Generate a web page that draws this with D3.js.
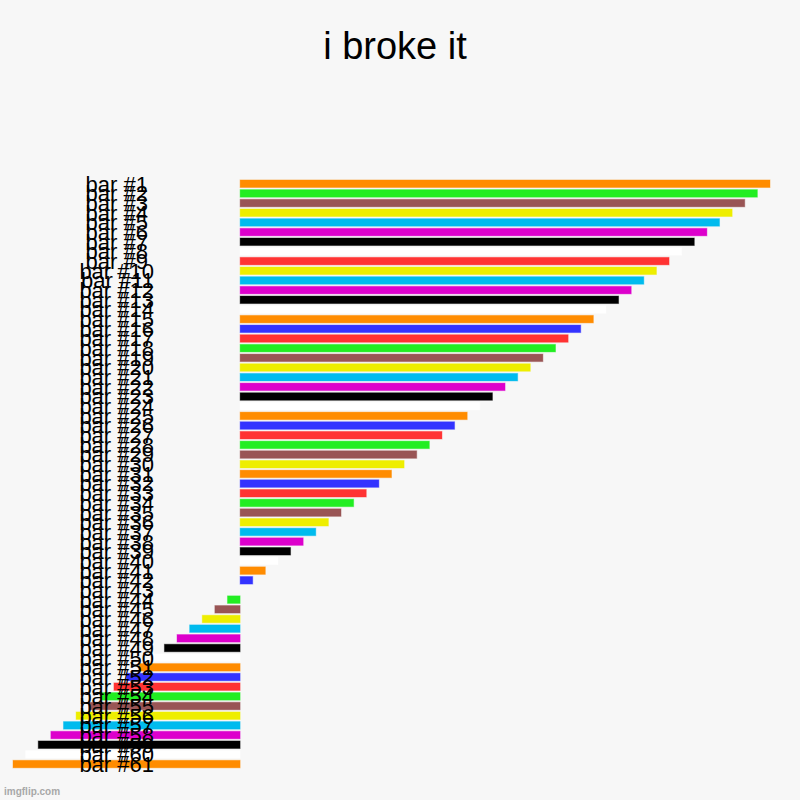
<!DOCTYPE html>
<html>
<head>
<meta charset="utf-8">
<script src="https://cdn.jsdelivr.net/npm/d3@7"></script>
<style>
  html, body { margin: 0; padding: 0; background: #f7f7f7; }
  svg { display: block; }
</style>
</head>
<body>
<svg id="chart" width="800" height="800"></svg>
<script>
// Bar labels, top to bottom
const barLabels = [
    "bar #1", "bar #2", "bar #3", "bar #4", "bar #5", "bar #6", "bar #7", "bar #8", "bar #9", "bar #10",
    "bar #11", "bar #12", "bar #13", "bar #14", "bar #15", "bar #16", "bar #17", "bar #18", "bar #19", "bar #20",
    "bar #21", "bar #22", "bar #23", "bar #24", "bar #25", "bar #26", "bar #27", "bar #28", "bar #29", "bar #30",
    "bar #31", "bar #32", "bar #33", "bar #34", "bar #35", "bar #36", "bar #37", "bar #38", "bar #39", "bar #40",
    "bar #41", "bar #42", "bar #43", "bar #44", "bar #45", "bar #46", "bar #47", "bar #48", "bar #49", "bar #50",
    "bar #51", "bar #52", "bar #53", "bar #54", "bar #55", "bar #56", "bar #57", "bar #58", "bar #59", "bar #60",
    "bar #61"
];

// Values (one unit ~ one bar step)
const barValues = [
    42, 41, 40, 39, 38, 37, 36, 35, 34, 33,
    32, 31, 30, 29, 28, 27, 26, 25, 24, 23,
    22, 21, 20, 19, 18, 17, 16, 15, 14, 13,
    12, 11, 10, 9, 8, 7, 6, 5, 4, 3,
    2, 1, 0, -1, -2, -3, -4, -5, -6, -7,
    -8, -9, -10, -11, -12, -13, -14, -15, -16, -17,
    -18
];

// Colour name of each bar, top to bottom
const barColors = [
    "orange", "green", "brown", "yellow", "cyan", "magenta", "black", "white", "red", "yellow",
    "cyan", "magenta", "black", "white", "orange", "blue", "red", "green", "brown", "yellow",
    "cyan", "magenta", "black", "white", "orange", "blue", "red", "green", "brown", "yellow",
    "orange", "blue", "red", "green", "brown", "yellow", "cyan", "magenta", "black", "white",
    "orange", "blue", "red", "green", "brown", "yellow", "cyan", "magenta", "black", "white",
    "orange", "blue", "red", "green", "brown", "yellow", "cyan", "magenta", "black", "white",
    "orange"
];

const palette = {
    orange: "#ff8c00", blue: "#3333ff", red: "#ff3333", green: "#22ee22", brown: "#995555",
    yellow: "#eeee00", cyan: "#00bbee", magenta: "#dd00cc", black: "#000000", white: "#ffffff"
};

const chartTitle = "i broke it";

const svg = d3.select("#chart");
const data = barLabels.map((label, i) => ({ label, value: barValues[i], color: palette[barColors[i]] }));

// Scales
const y = d3.scaleBand()
    .domain(barLabels)
    .range([178.9, 768.9])
    .paddingInner(0.22)
    .paddingOuter(0.11);

const x = d3.scaleLinear()
    .domain(d3.extent(barValues))
    .range([13, 770]);

// Title
svg.append("text")
    .attr("x", 395)
    .attr("y", 59)
    .attr("text-anchor", "middle")
    .style("font-family", "'Liberation Sans', Arial, sans-serif")
    .style("font-size", "38px")
    .style("fill", "#000")
    .text(chartTitle);

// Bars
svg.append("g")
    .selectAll("rect")
    .data(data)
    .join("rect")
    .attr("x", d => Math.min(x(0), x(d.value)))
    .attr("y", d => y(d.label))
    .attr("width", d => Math.abs(x(d.value) - x(0)))
    .attr("height", y.bandwidth())
    .style("fill", d => d.color)
    .style("stroke", d => d.color)
    .style("stroke-opacity", 0.4)
    .style("stroke-width", 1);

// Category labels, drawn over the bars
const yAxis = svg.append("g")
    .attr("transform", "translate(154,0)")
    .call(d3.axisLeft(y).tickSize(0).tickPadding(0));
yAxis.select(".domain").remove();
yAxis.selectAll("text")
    .attr("dy", "0.36em")
    // single-digit labels sit one space further left, as in the original
    .attr("dx", d => d.length < 7 ? "-0.278em" : null)
    .style("font-family", "'Liberation Sans', Arial, sans-serif")
    .style("font-size", "22px")
    .style("fill", "#000");

// Watermark
svg.append("text")
    .attr("x", 4)
    .attr("y", 795)
    .style("font-family", "'Liberation Sans', Arial, sans-serif")
    .style("font-size", "10px")
    .style("font-weight", "bold")
    .style("fill", "#a8a8a8")
    .text("imgflip.com");
</script>
</body>
</html>
